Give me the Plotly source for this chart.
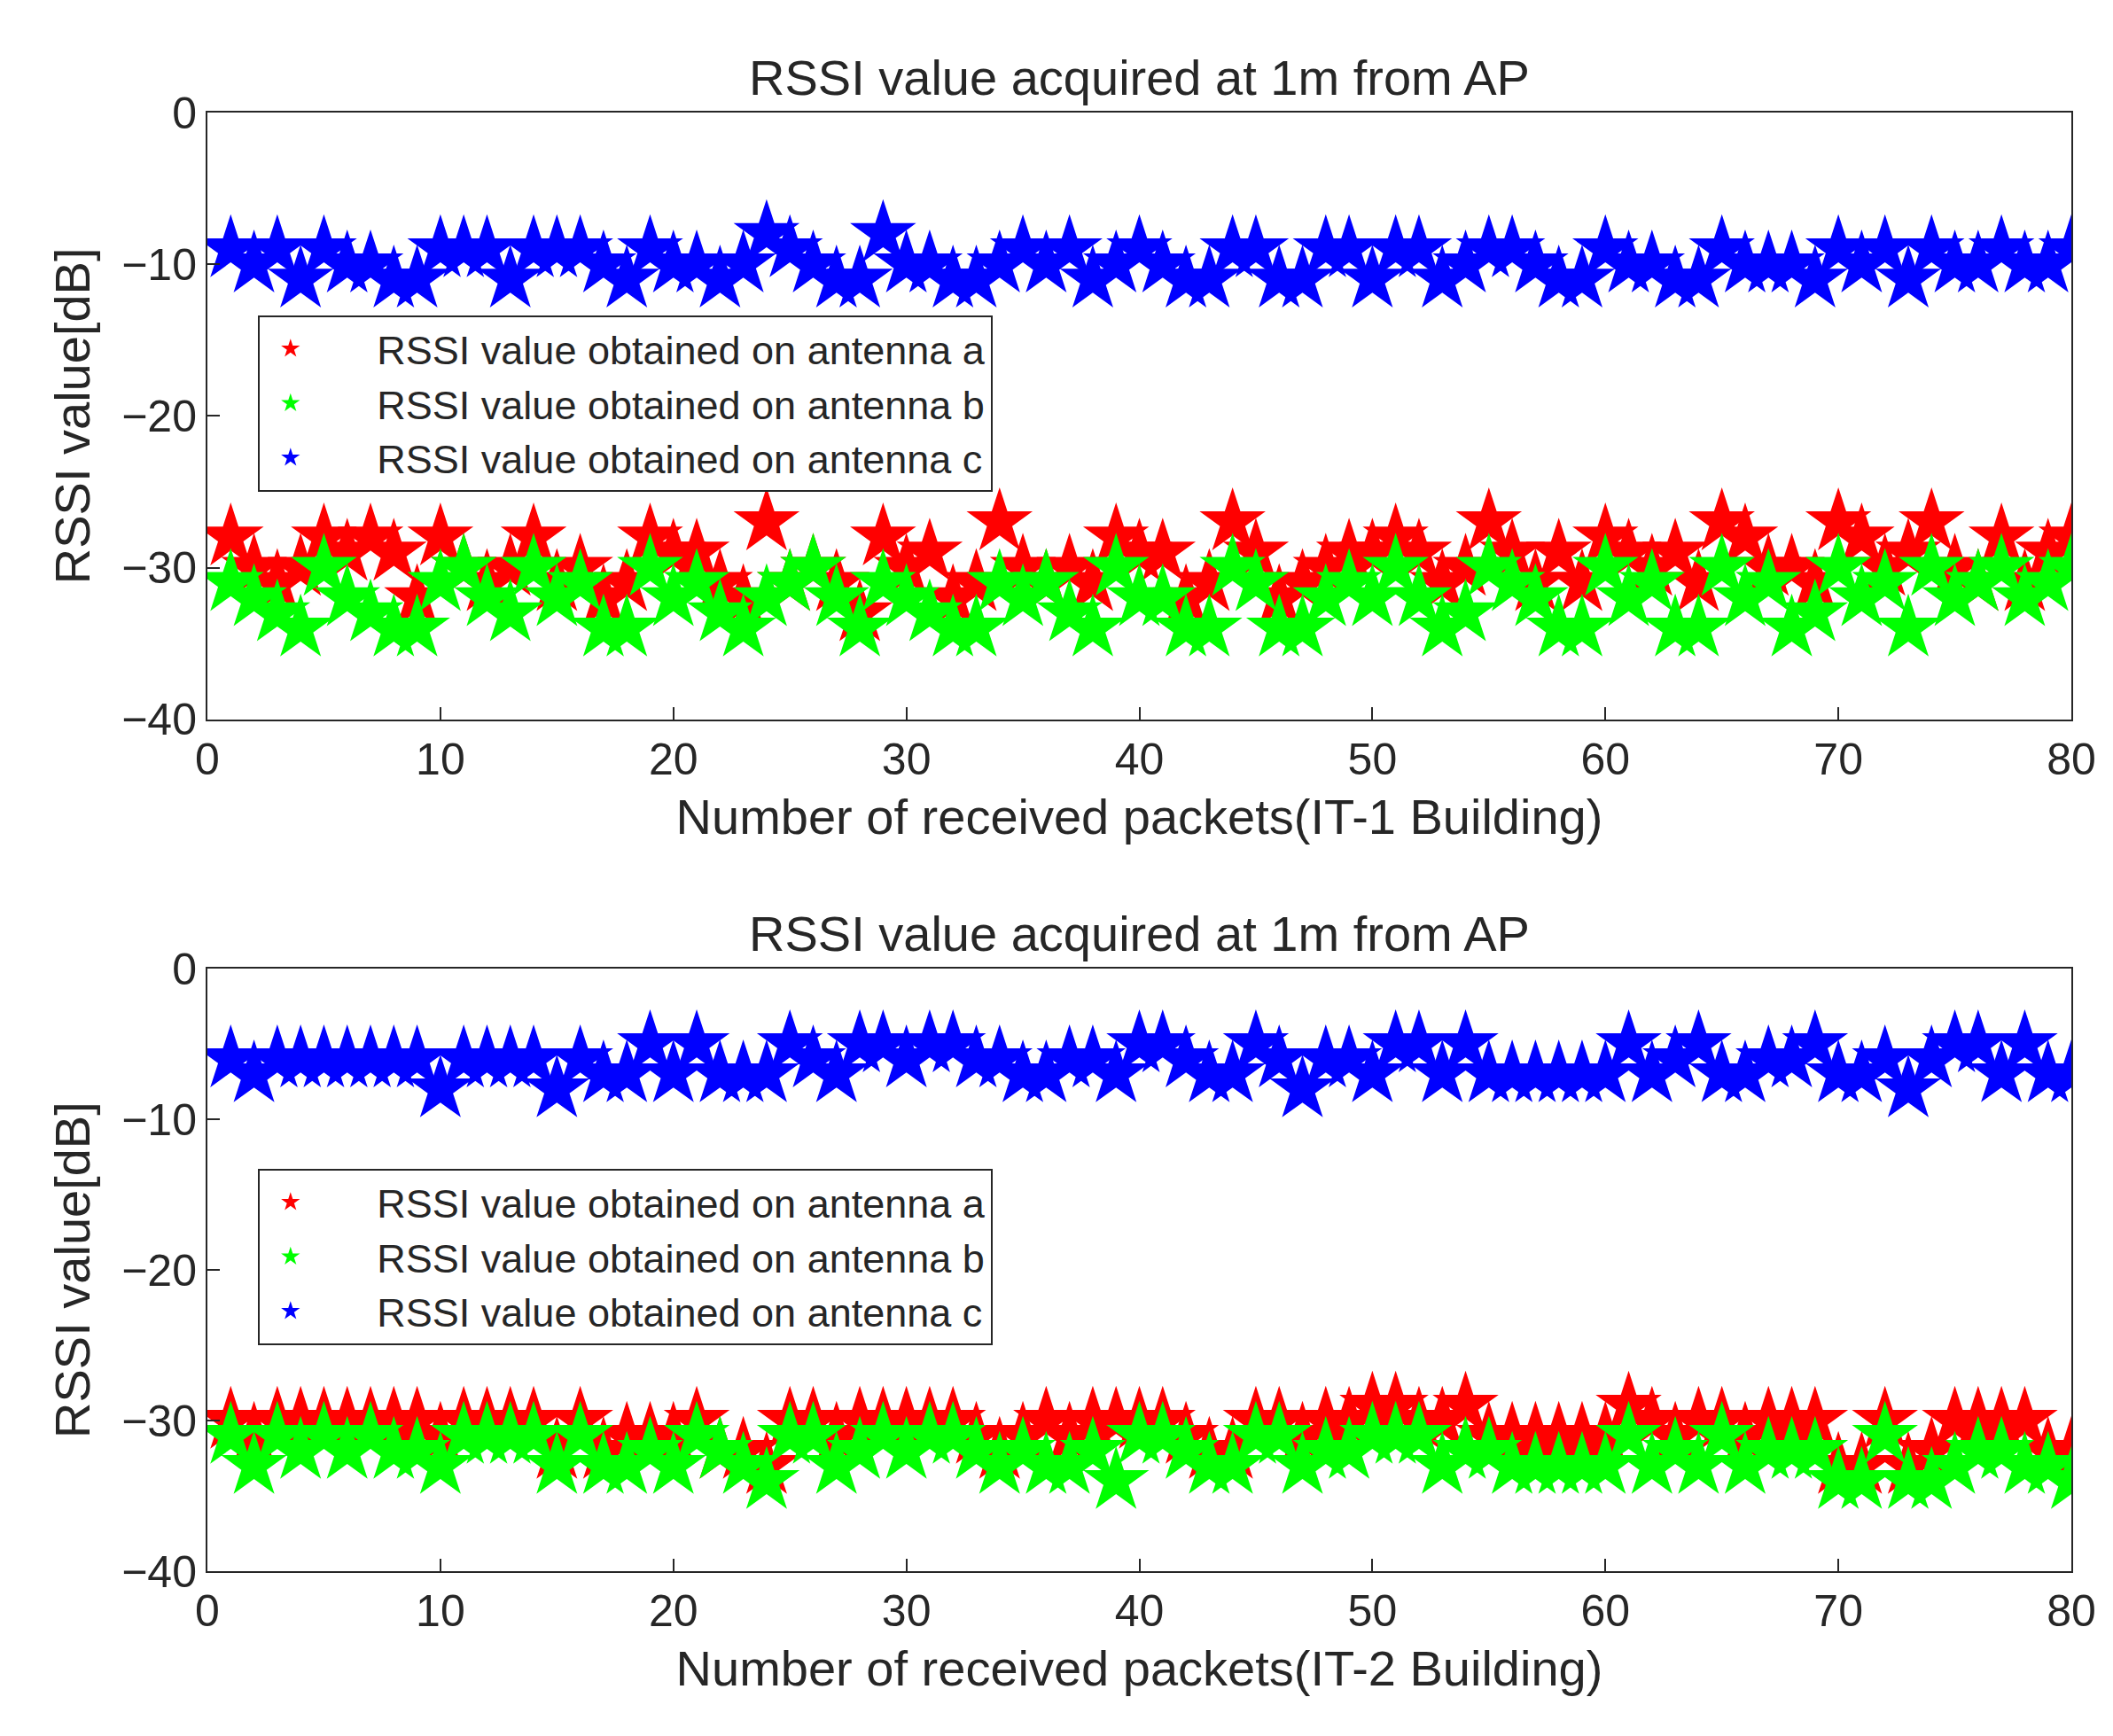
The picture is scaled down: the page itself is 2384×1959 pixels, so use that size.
import plotly.graph_objects as go

packets = list(range(1, 81))

# IT-1 building
it1_a = [-28, -30, -31, -30, -28, -29, -28, -29, -32, -28, -30, -31, -30, -28, -31, -30, -32, -31, -28, -29, -29, -31, -32, -27, -31, -30, -31, -33, -28, -30, -29, -32, -31, -27, -30, -31, -30, -31, -28, -29, -29, -32, -31, -27, -29, -32, -31, -30, -29, -29, -28, -29, -31, -30, -27, -29, -31, -29, -31, -28, -29, -30, -29, -31, -27, -28, -30, -30, -31, -27, -28, -30, -29, -27, -30, -31, -28, -31, -29, -28]
it1_b = [-31, -32, -33, -34, -30, -32, -33, -34, -34, -31, -30, -32, -33, -30, -32, -31, -34, -34, -30, -32, -31, -33, -34, -32, -31, -30, -32, -34, -31, -32, -33, -34, -34, -31, -32, -31, -33, -34, -30, -32, -32, -34, -34, -30, -31, -34, -34, -32, -31, -32, -30, -32, -34, -33, -30, -31, -32, -34, -34, -30, -32, -31, -34, -34, -30, -32, -31, -34, -33, -30, -32, -31, -34, -30, -32, -31, -30, -32, -31, -30]
it1_c = [-9, -10, -9, -11, -9, -10, -10, -11, -11, -9, -9, -9, -11, -9, -9, -9, -10, -11, -9, -10, -10, -11, -10, -8, -9, -10, -11, -11, -8, -10, -10, -11, -11, -10, -9, -10, -9, -11, -10, -9, -10, -11, -11, -9, -9, -11, -11, -9, -9, -11, -9, -9, -11, -10, -9, -9, -10, -11, -11, -9, -10, -10, -11, -11, -9, -10, -10, -10, -11, -9, -10, -9, -11, -9, -10, -10, -9, -10, -10, -9]

# IT-2 building
it2_a = [-30, -31, -30, -30, -30, -30, -30, -30, -30, -31, -30, -30, -30, -30, -32, -30, -32, -31, -31, -31, -30, -32, -32, -33, -30, -30, -31, -30, -30, -30, -30, -30, -31, -32, -31, -30, -31, -30, -30, -30, -30, -31, -32, -32, -30, -30, -31, -30, -30, -29, -29, -30, -30, -29, -31, -31, -31, -31, -31, -31, -29, -30, -31, -30, -30, -31, -30, -30, -30, -33, -33, -30, -33, -32, -30, -30, -30, -30, -32, -32]
it2_b = [-31, -33, -31, -32, -31, -32, -31, -32, -32, -33, -31, -31, -31, -31, -33, -31, -33, -33, -32, -33, -31, -32, -33, -34, -31, -31, -33, -32, -31, -32, -31, -31, -32, -33, -32, -33, -33, -32, -34, -31, -31, -32, -33, -33, -31, -31, -33, -32, -32, -31, -31, -31, -33, -32, -32, -33, -33, -33, -33, -33, -31, -33, -32, -33, -31, -33, -32, -32, -32, -34, -34, -31, -34, -34, -33, -32, -32, -33, -33, -34]
it2_c = [-6, -7, -6, -6, -6, -6, -6, -6, -6, -8, -6, -6, -6, -6, -8, -6, -7, -7, -5, -7, -5, -7, -7, -7, -5, -6, -7, -5, -5, -6, -5, -5, -6, -6, -7, -7, -6, -6, -7, -5, -5, -6, -7, -7, -5, -6, -8, -6, -6, -7, -5, -5, -7, -5, -7, -7, -7, -7, -7, -7, -5, -7, -6, -5, -7, -7, -6, -6, -5, -7, -7, -6, -8, -6, -5, -5, -7, -5, -7, -7]

names = ["RSSI value obtained on antenna a", "RSSI value obtained on antenna b",
         "RSSI value obtained on antenna c"]
colors = ["#ff0000", "#00ff00", "#0000ff"]

FONT = "Liberation Sans, Arial, sans-serif"

fig = go.Figure()
for ys, nm, c in zip([it1_a, it1_b, it1_c], names, colors):
    fig.add_trace(go.Scatter(x=packets, y=ys, name="     " + nm, mode="markers",
                             marker=dict(symbol="star", size=56, color=c, line=dict(width=0)),
                             xaxis="x", yaxis="y", legend="legend"))
for ys, nm, c in zip([it2_a, it2_b, it2_c], names, colors):
    fig.add_trace(go.Scatter(x=packets, y=ys, name="     " + nm, mode="markers",
                             marker=dict(symbol="star", size=56, color=c, line=dict(width=0)),
                             xaxis="x2", yaxis="y2", legend="legend2"))

ax = dict(showline=True, linecolor="#262626", linewidth=2, mirror=True, ticks="inside",
          ticklen=14, tickwidth=2, tickcolor="#262626", showgrid=False, zeroline=False,
          tickfont=dict(size=50, color="#262626"))

leg = dict(x=0.027, xanchor="left", yanchor="top", bgcolor="white",
           bordercolor="#262626", borderwidth=2, font=dict(size=45), itemwidth=60,
           tracegroupgap=0)

fig.update_layout(
    width=2384, height=1959,
    margin=dict(l=226, r=55, t=119, b=194),
    paper_bgcolor="white", plot_bgcolor="white",
    font=dict(family=FONT, color="#262626"),
    xaxis=dict(ax, domain=[0, 1], range=[0, 80], dtick=10, anchor="y",
               title=dict(text="Number of received packets(IT-1 Building)", font=dict(size=56), standoff=18)),
    yaxis=dict(ax, domain=[0.584, 1], range=[-40, 0], dtick=10, anchor="x",
               title=dict(text="RSSI value[dB]", font=dict(size=56), standoff=18)),
    xaxis2=dict(ax, domain=[0, 1], range=[0, 80], dtick=10, anchor="y2",
                title=dict(text="Number of received packets(IT-2 Building)", font=dict(size=56), standoff=18)),
    yaxis2=dict(ax, domain=[0, 0.413], range=[-40, 0], dtick=10, anchor="x2",
                title=dict(text="RSSI value[dB]", font=dict(size=56), standoff=18)),
    legend=dict(leg, y=0.861),
    legend2=dict(leg, y=0.276),
    annotations=[
        dict(text="RSSI value acquired at 1m from AP", x=0.5, y=1, xref="paper", yref="paper",
             xanchor="center", yanchor="bottom", yshift=6, showarrow=False, font=dict(size=56)),
        dict(text="RSSI value acquired at 1m from AP", x=0.5, y=0.413, xref="paper", yref="paper",
             xanchor="center", yanchor="bottom", yshift=6, showarrow=False, font=dict(size=56)),
    ],
)

fig.write_html("out.html")
